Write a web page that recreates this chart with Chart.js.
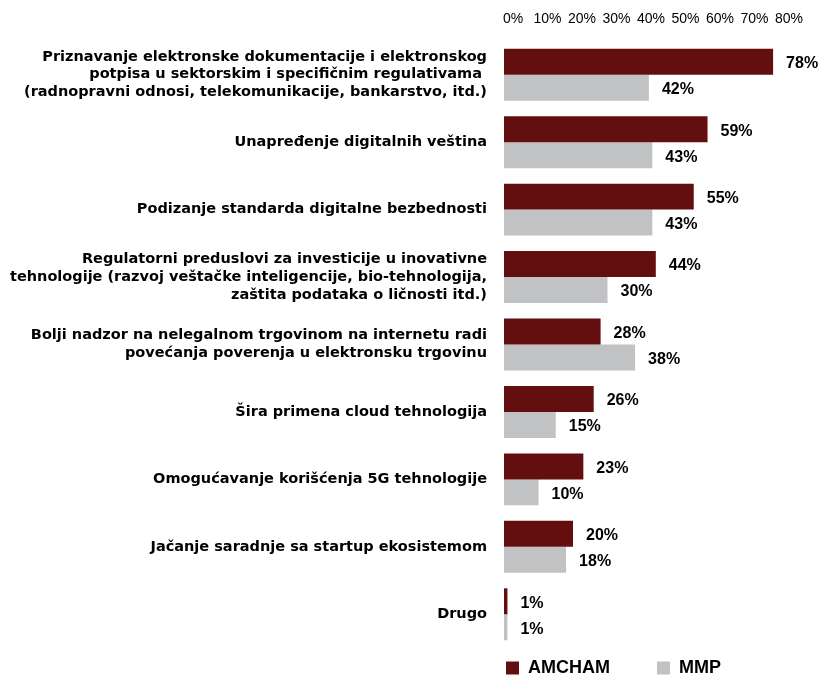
<!DOCTYPE html>
<html lang="sr">
<head>
    <meta charset="UTF-8">
    <title>Prioriteti digitalizacije</title>
    <style>
        * {
            margin: 0;
            padding: 0;
            box-sizing: border-box;
        }

        body {
            background: #fff;
            width: 830px;
            height: 678px;
            overflow: hidden;
        }
    </style>
    <script src="https://cdn.jsdelivr.net/npm/chart.js"></script>
</head>
<body>
    <canvas id="chart" width="830" height="678"></canvas>

    <script>
        // Data
        const categories = [
            ['Priznavanje elektronske dokumentacije i elektronskog', 'potpisa u sektorskim i specifičnim regulativama ', '(radnopravni odnosi, telekomunikacije, bankarstvo, itd.)'],
            'Unapređenje digitalnih veština',
            'Podizanje standarda digitalne bezbednosti',
            ['Regulatorni preduslovi za investicije u inovativne', 'tehnologije (razvoj veštačke inteligencije, bio-tehnologija,', 'zaštita podataka o ličnosti itd.)'],
            ['Bolji nadzor na nelegalnom trgovinom na internetu radi', 'povećanja poverenja u elektronsku trgovinu'],
            'Šira primena cloud tehnologija',
            'Omogućavanje korišćenja 5G tehnologije',
            'Jačanje saradnje sa startup ekosistemom',
            'Drugo'
        ];
        const amchamValues = [78, 59, 55, 44, 28, 26, 23, 20, 1];
        const mmpValues = [42, 43, 43, 30, 38, 15, 10, 18, 1];
        const seriesNames = ['AMCHAM', 'MMP'];
        const axisMax = 80;
        const axisStep = 10;

        Chart.defaults.font.family = '"Liberation Sans", Arial, sans-serif';
        Chart.defaults.color = '#000';

        // value labels at the end of every bar
        const valueLabels = {
            id: 'valueLabels',
            afterDatasetsDraw(chart) {
                const ctx = chart.ctx;
                ctx.save();
                ctx.font = 'bold 16px "Liberation Sans", Arial, sans-serif';
                ctx.fillStyle = '#000';
                ctx.textAlign = 'left';
                ctx.textBaseline = 'middle';
                chart.data.datasets.forEach((ds, i) => {
                    chart.getDatasetMeta(i).data.forEach((bar, j) => {
                        ctx.fillText(ds.data[j] + '%', bar.x + 13, bar.y + 2);
                    });
                });
                ctx.restore();
            }
        };

        // legend sits a bit lower than chart.js puts it
        const legendNudge = {
            id: 'legendNudge',
            afterLayout(chart) {
                chart.legend.top += 9;
                chart.legend.bottom += 9;
            }
        };

        const ctx = document.getElementById('chart').getContext('2d');
        const chart = new Chart(ctx, {
            type: 'bar',
            data: {
                labels: categories,
                datasets: [
                    {
                        label: seriesNames[0],
                        data: amchamValues,
                        backgroundColor: '#630f0f',
                        borderWidth: 0
                    },
                    {
                        label: seriesNames[1],
                        data: mmpValues,
                        backgroundColor: '#c1c2c4',
                        borderWidth: 0
                    }
                ]
            },
            options: {
                indexAxis: 'y',
                responsive: false,
                animation: false,
                categoryPercentage: 0.77,
                barPercentage: 1,
                layout: {
                    padding: { top: 0, right: 50, bottom: 0, left: 0 }
                },
                scales: {
                    x: {
                        position: 'top',
                        min: 0,
                        max: axisMax,
                        grid: { display: false, drawTicks: false },
                        border: { display: false },
                        ticks: {
                            stepSize: axisStep,
                            padding: 13,
                            labelOffset: 9,
                            font: { size: 14 },
                            callback: v => v + '%'
                        },
                        afterFit(scale) {
                            scale.height = 41;
                        }
                    },
                    y: {
                        grid: { display: false, drawTicks: false },
                        border: { display: false },
                        ticks: {
                            padding: 17,
                            font: { family: '"DejaVu Sans", sans-serif', size: 14.5, weight: 'bold', lineHeight: 1.24 }
                        },
                        afterFit(scale) {
                            scale.width = 504;
                            // the tall wrapped labels should not squeeze the plot
                            scale.paddingTop = 0;
                            scale.paddingBottom = 0;
                        }
                    }
                },
                plugins: {
                    tooltip: { enabled: false },
                    legend: {
                        position: 'bottom',
                        fullSize: false,
                        align: 'start',
                        labels: {
                            boxWidth: 13,
                            boxHeight: 13,
                            padding: 2,
                            font: { size: 18, weight: 'bold', lineHeight: 1 },
                            generateLabels(chart) {
                                const items = Chart.defaults.plugins.legend.labels.generateLabels(chart);
                                // extra room after the first entry, as in the original
                                items[0].text = items[0].text + '         ';
                                return items;
                            }
                        }
                    }
                }
            },
            plugins: [valueLabels, legendNudge]
        });
    </script>
</body>
</html>
